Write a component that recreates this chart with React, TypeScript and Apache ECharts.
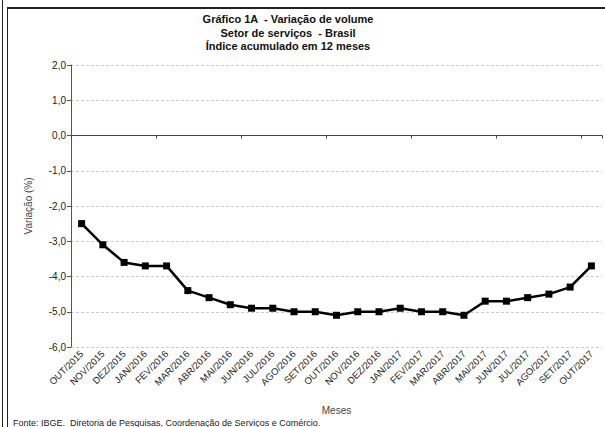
import React, { useEffect, useRef } from "react";
import * as echarts from "echarts";

const categories = [
  "OUT/2015", "NOV/2015", "DEZ/2015", "JAN/2016", "FEV/2016", "MAR/2016", "ABR/2016",
  "MAI/2016", "JUN/2016", "JUL/2016", "AGO/2016", "SET/2016", "OUT/2016", "NOV/2016",
  "DEZ/2016", "JAN/2017", "FEV/2017", "MAR/2017", "ABR/2017", "MAI/2017", "JUN/2017",
  "JUL/2017", "AGO/2017", "SET/2017", "OUT/2017",
];
const values = [
  -2.5, -3.1, -3.6, -3.7, -3.7, -4.4, -4.6, -4.8, -4.9, -4.9, -5.0, -5.0, -5.1, -5.0,
  -5.0, -4.9, -5.0, -5.0, -5.1, -4.7, -4.7, -4.6, -4.5, -4.3, -3.7,
];
const titleLines = [
  "Gráfico 1A  - Variação de volume",
  "Setor de serviços  - Brasil",
  "Índice acumulado em 12 meses",
];
const yAxisName = "Variação (%)";
const xAxisName = "Meses";
const sourceNote = "Fonte: IBGE.  Diretoria de Pesquisas, Coordenação de Serviços e Comércio.";

const FONT = "'Liberation Sans', Arial, sans-serif";

export default function App() {
  const ref = useRef<HTMLDivElement>(null);
  useEffect(() => {
    if (!ref.current) return;
    const chart = echarts.init(ref.current, undefined, { renderer: "svg" });
    chart.setOption({
      animation: false,
      backgroundColor: "#ffffff",
      textStyle: { fontFamily: FONT },
      grid: { left: 71, top: 65, width: 531, height: 282, containLabel: false },
      xAxis: [
        {
          type: "category",
          data: categories,
          position: "bottom",
          boundaryGap: true,
          axisLine: { show: false, onZero: false },
          axisTick: { show: false },
          axisLabel: {
            rotate: 45,
            fontSize: 9.5,
            color: "#222",
            fontFamily: FONT,
            margin: 5,
            interval: 0,
          },
          name: xAxisName,
          nameLocation: "middle",
          nameGap: 58,
          nameTextStyle: { fontSize: 10, color: "#444", fontFamily: FONT },
          splitLine: { show: false },
        },
        {
          type: "category",
          data: categories,
          position: "top",
          boundaryGap: true,
          axisLine: { show: true, onZero: true, lineStyle: { color: "#444", width: 1 } },
          axisTick: { show: true, inside: true, length: 3, lineStyle: { color: "#444" } },
          axisLabel: { show: false },
          splitLine: { show: false },
        },
      ],
      yAxis: {
        type: "value",
        min: -6,
        max: 2,
        interval: 1,
        axisLine: { show: true, lineStyle: { color: "#555", width: 1 } },
        axisTick: { show: true, length: 4, lineStyle: { color: "#555" } },
        axisLabel: {
          fontSize: 10,
          color: "#222",
          margin: 5,
          fontFamily: FONT,
          formatter: (v: number) => v.toFixed(1).replace(".", ","),
        },
        splitLine: { show: true, lineStyle: { color: "#cccccc", type: [3, 2], width: 1 } },
        name: yAxisName,
        nameLocation: "middle",
        nameGap: 38,
        nameRotate: 90,
        nameTextStyle: { fontSize: 10, color: "#444", fontFamily: FONT },
      },
      series: [
        {
          type: "line",
          xAxisIndex: 0,
          data: values,
          symbol: "rect",
          symbolSize: 7,
          lineStyle: { color: "#000", width: 2.5 },
          itemStyle: { color: "#000" },
          z: 5,
        },
      ],
      graphic: [
        { type: "line", shape: { x1: 2.5, y1: 0, x2: 2.5, y2: 427 }, style: { stroke: "#222", lineWidth: 1 } },
        { type: "line", shape: { x1: 7.5, y1: 8, x2: 7.5, y2: 427 }, style: { stroke: "#222", lineWidth: 1 } },
        { type: "line", shape: { x1: 7, y1: 8, x2: 605, y2: 8 }, style: { stroke: "#222", lineWidth: 2 } },
        ...titleLines.map((t, i) => ({
          type: "text",
          x: 288,
          y: 19 + i * 13.5,
          style: {
            text: t,
            fontSize: 11,
            fontWeight: "bold",
            fontFamily: FONT,
            fill: "#111",
            textAlign: "center",
            textVerticalAlign: "middle",
          },
        })),
        {
          type: "text",
          x: 13,
          y: 423,
          style: {
            text: sourceNote,
            fontSize: 9,
            fontFamily: FONT,
            fill: "#222",
            textAlign: "left",
            textVerticalAlign: "middle",
          },
        },
      ],
    });
    return () => chart.dispose();
  }, []);
  return (
    <div
      ref={ref}
      style={{ position: "fixed", left: 0, top: 0, width: 605, height: 427 }}
    />
  );
}
